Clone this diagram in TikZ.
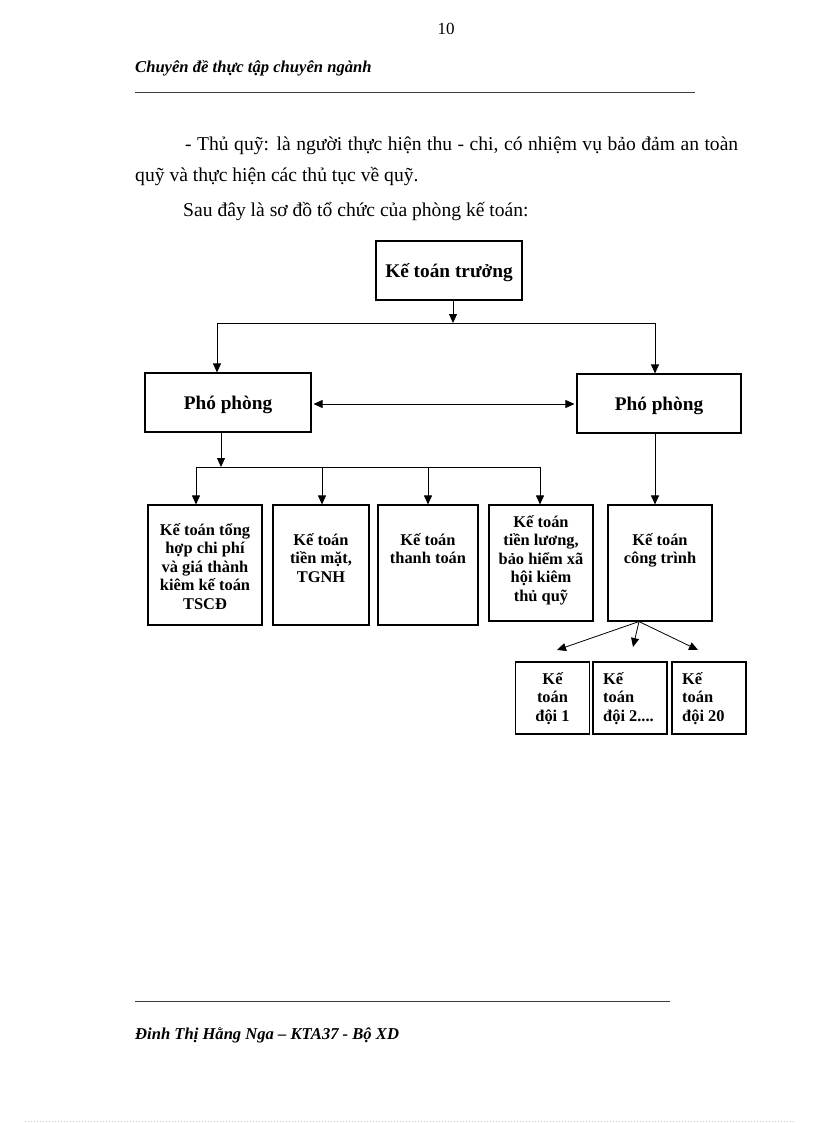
\documentclass[tikz,border=0pt]{standalone}
\usepackage{fontspec}
\setmainfont{Liberation Serif}
\usetikzlibrary{arrows.meta}
\definecolor{faint}{RGB}{170,220,170}
\definecolor{rulegray}{RGB}{60,60,60}
\begin{document}
\begin{tikzpicture}[x=1pt,y=-1pt,
  box/.style={draw, line width=1.1pt, inner sep=0pt, minimum width=#1},
  arr/.style={-{Triangle[length=9pt,width=8pt]}, line width=0.8pt},
  darr/.style={{Triangle[length=9pt,width=8pt]}-{Triangle[length=9pt,width=8pt]}, line width=0.8pt},
  ln/.style={line width=0.8pt},
  bigtxt/.style={font=\fontsize{19.3}{22}\selectfont\bfseries, text height=16pt, text depth=3pt},
  smtxt/.style={font=\fontsize{16.4}{18.5}\selectfont\bfseries, inner sep=0pt, align=center, anchor=north},
  smleft/.style={font=\fontsize{16.4}{18.5}\selectfont\bfseries, inner sep=0pt, align=left, anchor=north west},
  body/.style={font=\fontsize{19.6}{22}\selectfont, inner sep=0pt, anchor=base west},
  hdr/.style={font=\fontsize{16.6}{20}\selectfont\bfseries\itshape, inner sep=0pt, anchor=base west},
]
\useasboundingbox (0,0) rectangle (816,1123);
\newcommand{\st}{\rule{0pt}{16pt}}

% page header
\node[font=\fontsize{17}{20}\selectfont, inner sep=0pt, anchor=base] (pnum) at (446,35) {10};
\node[hdr] (htitle) at (135,73) {Chuyên đề thực tập chuyên ngành};
\coordinate (hl1) at (135,92);
\coordinate (hl2) at (695,92);
\draw[rulegray, line width=0.7pt] (hl1) -- (hl2);

% body text
\node[body] (p1) at (185,151) {\makebox[553pt][s]{- Thủ quỹ: là người thực hiện thu - chi, có nhiệm vụ bảo đảm an toàn}};
\node[body] (p2) at (135,182) {quỹ và thực hiện các thủ tục về quỹ.};
\node[body] (p3) at (183,217) {Sau đây là sơ đồ tổ chức của phòng kế toán:};

% main boxes
\node[box=146pt, minimum height=59pt, bigtxt] (kt) at (449,270.5) {Kế toán trưởng};
\node[box=166pt, minimum height=59pt, bigtxt] (pp1) at (228,402.5) {Phó phòng};
\node[box=164pt, minimum height=59pt, bigtxt] (pp2) at (659,403.5) {Phó phòng};

% bottom boxes
\node[box=114pt, minimum height=120pt] (b1) at (205,565) {};
\node[box=96pt, minimum height=120pt] (b2) at (321,565) {};
\node[box=100pt, minimum height=120pt] (b3) at (428,565) {};
\node[box=104pt, minimum height=116pt] (b4) at (541,563) {};
\node[box=104pt, minimum height=116pt] (b5) at (660,563) {};

\node[smtxt] (b1t) at (205,519) {\st Kế toán tổng\\hợp chi phí\\và giá thành\\kiêm kế toán\\TSCĐ};
\node[smtxt] (b2t) at (321,529) {\st Kế toán\\tiền mặt,\\TGNH};
\node[smtxt] (b3t) at (428,529) {\st Kế toán\\thanh  toán};
\node[smtxt] (b4t) at (541,511) {\st Kế toán\\tiền lương,\\bảo hiểm xã\\hội kiêm\\thủ quỹ};
\node[smtxt] (b5t) at (660,529) {\st Kế toán\\công trình};

% small boxes
\node[box=74pt, minimum height=72pt] (d1) at (552.5,698) {};
\node[box=74pt, minimum height=72pt] (d2) at (630,698) {};
\node[box=74pt, minimum height=72pt] (d3) at (709,698) {};
\node[smtxt] (d1t) at (552.5,668) {\st Kế\\toán\\đội 1};
\node[smleft] (d2t) at (603,668) {\st Kế\\toán\\đội 2....};
\node[smleft] (d3t) at (682,668) {\st Kế\\toán\\đội 20};

% connectors
\coordinate (j1) at (453,323);
\coordinate (j1l) at (217,323);
\coordinate (j1r) at (655,323);
\draw[arr] (kt.south -| j1) -- (j1);
\draw[ln] (j1l) -- (j1r);
\draw[arr] (j1l) -- (pp1.north -| j1l);
\draw[arr] (j1r) -- (pp2.north -| j1r);

\coordinate (m) at (444,404);
\draw[darr] ([xshift=2pt]pp1.east |- m) -- ([xshift=-2pt]pp2.west |- m);

\coordinate (j2) at (221,467);
\coordinate (c1) at (196,467);
\coordinate (c2) at (322,467);
\coordinate (c3) at (428,467);
\coordinate (c4) at (540,467);
\draw[arr] (pp1.south -| j2) -- (j2);
\draw[ln] (c1) -- (c4);
\draw[arr] (c1) -- (b1.north -| c1);
\draw[arr] (c2) -- (b2.north -| c2);
\draw[arr] (c3) -- (b3.north -| c3);
\draw[arr] (c4) -- (b4.north -| c4);

\coordinate (c5) at (655,433);
\draw[arr] (pp2.south -| c5) -- (b5.north -| c5);

\coordinate (o) at (639,621);
\coordinate (t1) at (557,650);
\coordinate (t2) at (633,647);
\coordinate (t3) at (698,650);
\draw[arr] (b5.south -| o) -- (t1);
\draw[arr] (b5.south -| o) -- (t2);
\draw[arr] (b5.south -| o) -- (t3);

% footer
\coordinate (fl1) at (135,1001);
\coordinate (fl2) at (670,1001);
\draw[rulegray, line width=0.7pt] (fl1) -- (fl2);
\node[hdr] (ftxt) at (135,1039) {Đinh Thị Hằng Nga – KTA37 - Bộ XD};

\coordinate (dl1) at (25,1121);
\coordinate (dl2) at (795,1121);
\draw[faint, line width=0.5pt, dash pattern=on 1pt off 2pt] (dl1) -- (dl2);
\end{tikzpicture}
\end{document}
